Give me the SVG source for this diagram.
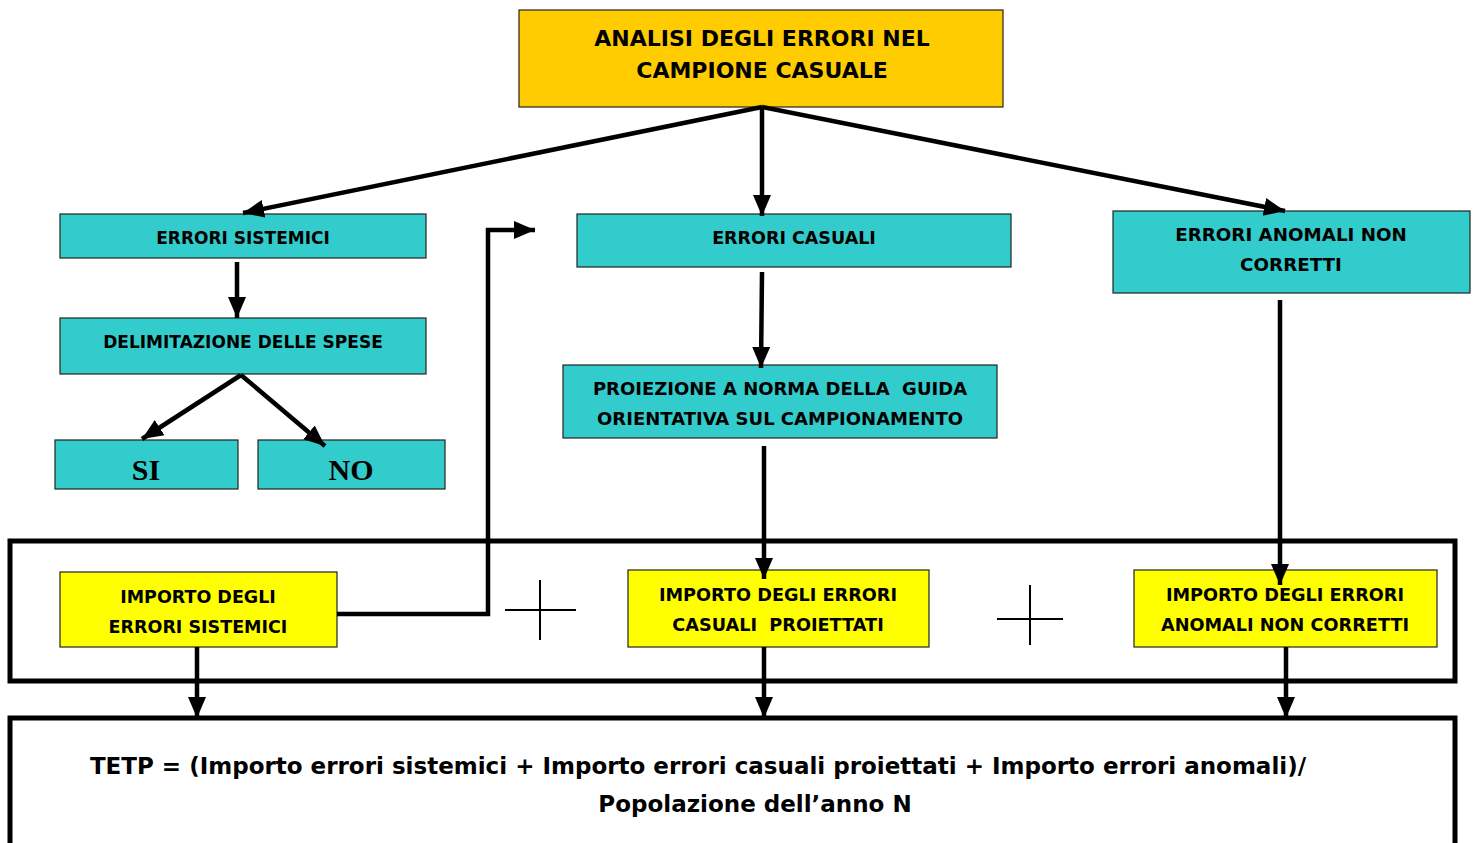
<svg xmlns="http://www.w3.org/2000/svg" width="1475" height="843" viewBox="0 0 1475 843">
  <defs>
    <marker id="arrow" markerUnits="userSpaceOnUse" markerWidth="24" markerHeight="24" viewBox="0 0 24 24" refX="21" refY="12" orient="auto">
      <path d="M0,3 L21,12 L0,21 Z" fill="#000"/>
    </marker>
    <style>
      .box { stroke: #222; stroke-width: 1.2; }
      .teal { fill: #33CCCC; }
      .gold { fill: #FFCC00; }
      .yel { fill: #FFFF00; }
      .frame { fill: none; stroke: #000; stroke-width: 5; }
      .lbl { font-family: "DejaVu Sans", "Liberation Sans", sans-serif; font-weight: bold; fill: #000; text-anchor: middle; white-space: pre; }
      .serif { font-family: "Liberation Serif", serif; font-weight: bold; fill: #000; text-anchor: middle; font-size: 30px; }
      .conn { fill: none; stroke: #000; stroke-width: 4.5; }
      .plus { stroke: #000; stroke-width: 2; }
    </style>
  </defs>

  <rect x="0" y="0" width="1475" height="843" fill="#fff"/>

  <!-- framing boxes -->
  <rect class="frame" x="10" y="541" width="1445" height="140"/>
  <path class="frame" d="M10,843 V718 H1455 V843"/>

  <g id="n-analisi">
    <rect class="box gold" x="519" y="10" width="484" height="97"/>
    <text class="lbl" font-size="22" x="762" y="46">ANALISI DEGLI ERRORI NEL</text>
    <text class="lbl" font-size="22" x="762" y="78">CAMPIONE CASUALE</text>
  </g>

  <g id="n-sistemici">
    <rect class="box teal" x="60" y="214" width="366" height="44"/>
    <text class="lbl" font-size="17" x="243" y="244">ERRORI SISTEMICI</text>
  </g>

  <g id="n-delimitazione">
    <rect class="box teal" x="60" y="318" width="366" height="56"/>
    <text class="lbl" font-size="17" x="243" y="348">DELIMITAZIONE DELLE SPESE</text>
  </g>

  <g id="n-si">
    <rect class="box teal" x="55" y="440" width="183" height="49"/>
    <text class="serif" x="146" y="480">SI</text>
  </g>

  <g id="n-no">
    <rect class="box teal" x="258" y="440" width="187" height="49"/>
    <text class="serif" x="351" y="480">NO</text>
  </g>

  <g id="n-casuali">
    <rect class="box teal" x="577" y="214" width="434" height="53"/>
    <text class="lbl" font-size="17.5" x="794" y="244">ERRORI CASUALI</text>
  </g>

  <g id="n-proiezione">
    <rect class="box teal" x="563" y="365" width="434" height="73"/>
    <text class="lbl" font-size="18" x="780" y="395" xml:space="preserve">PROIEZIONE A NORMA DELLA  GUIDA</text>
    <text class="lbl" font-size="18" x="780" y="425">ORIENTATIVA SUL CAMPIONAMENTO</text>
  </g>

  <g id="n-anomali">
    <rect class="box teal" x="1113" y="211" width="357" height="82"/>
    <text class="lbl" font-size="18.3" x="1291" y="241">ERRORI ANOMALI NON</text>
    <text class="lbl" font-size="18.3" x="1291" y="271">CORRETTI</text>
  </g>

  <g id="n-imp-sistemici">
    <rect class="box yel" x="60" y="572" width="277" height="75"/>
    <text class="lbl" font-size="17.5" x="198" y="603">IMPORTO DEGLI</text>
    <text class="lbl" font-size="17.5" x="198" y="633">ERRORI SISTEMICI</text>
  </g>

  <g id="n-imp-casuali">
    <rect class="box yel" x="628" y="570" width="301" height="77"/>
    <text class="lbl" font-size="17.7" x="778" y="601">IMPORTO DEGLI ERRORI</text>
    <text class="lbl" font-size="17.7" x="778" y="631" xml:space="preserve">CASUALI  PROIETTATI</text>
  </g>

  <g id="n-imp-anomali">
    <rect class="box yel" x="1134" y="570" width="303" height="77"/>
    <text class="lbl" font-size="17.7" x="1285" y="601">IMPORTO DEGLI ERRORI</text>
    <text class="lbl" font-size="17.7" x="1285" y="631">ANOMALI NON CORRETTI</text>
  </g>

  <g id="n-tetp">
    <text class="lbl" font-size="23" x="698" y="774">TETP = (Importo errori sistemici + Importo errori casuali proiettati + Importo errori anomali)/</text>
    <text class="lbl" font-size="23" x="755" y="812">Popolazione dell’anno N</text>
  </g>

  <!-- plus signs between the amounts -->
  <g id="plus-signs">
    <line class="plus" x1="505" y1="610" x2="576" y2="610"/>
    <line class="plus" x1="540" y1="580" x2="540" y2="640"/>
    <line class="plus" x1="997" y1="619" x2="1063" y2="619"/>
    <line class="plus" x1="1030" y1="585" x2="1030" y2="645"/>
  </g>

  <g id="connectors">
    <line class="conn" x1="762" y1="107" x2="243" y2="213" marker-end="url(#arrow)"/>
    <line class="conn" x1="762" y1="107" x2="762" y2="216" marker-end="url(#arrow)"/>
    <line class="conn" x1="762" y1="107" x2="1285" y2="211" marker-end="url(#arrow)"/>
    <line class="conn" x1="237" y1="262" x2="237" y2="318" marker-end="url(#arrow)"/>
    <line class="conn" x1="241" y1="375" x2="142" y2="439" marker-end="url(#arrow)"/>
    <line class="conn" x1="241" y1="375" x2="325" y2="446" marker-end="url(#arrow)"/>
    <line class="conn" x1="762" y1="272" x2="761" y2="368" marker-end="url(#arrow)"/>
    <line class="conn" x1="764" y1="446" x2="764" y2="579" marker-end="url(#arrow)"/>
    <line class="conn" x1="1280" y1="300" x2="1280" y2="585" marker-end="url(#arrow)"/>
    <polyline class="conn" points="337,614 488,614 488,230 535,230" marker-end="url(#arrow)"/>
    <line class="conn" x1="197" y1="647" x2="197" y2="718" marker-end="url(#arrow)"/>
    <line class="conn" x1="764" y1="647" x2="764" y2="718" marker-end="url(#arrow)"/>
    <line class="conn" x1="1286" y1="647" x2="1286" y2="718" marker-end="url(#arrow)"/>
  </g>
</svg>
